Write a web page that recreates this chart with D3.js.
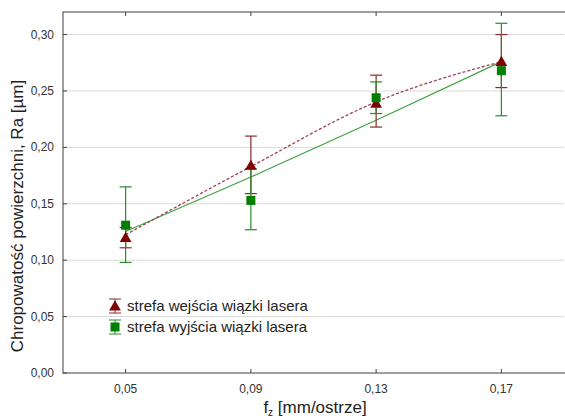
<!DOCTYPE html>
<html>
<head>
<meta charset="utf-8">
<script src="https://cdn.jsdelivr.net/npm/d3@7"></script>
<style>
  body { margin: 0; background: #fff; }
  svg { display: block; font-family: "Liberation Sans", Arial, sans-serif; }
</style>
</head>
<body>
<svg id="chart" width="565" height="420"></svg>
<script>
// feed per tooth [mm/ostrze]
const feeds = [0.05, 0.09, 0.13, 0.17];
const xTicks = [0.05, 0.09, 0.13, 0.17];
const yTicks = [0, 0.05, 0.10, 0.15, 0.20, 0.25, 0.30];

// strefa wejścia (entry zone)
const entryMean = [0.120, 0.184, 0.239, 0.276];
const entryLow  = [0.111, 0.159, 0.218, 0.253];
const entryHigh = [0.129, 0.210, 0.264, 0.300];
const entryFit  = [0.1225, 0.183, 0.2403, 0.276];

// strefa wyjścia (exit zone)
const exitMean = [0.131, 0.153, 0.244, 0.268];
const exitLow  = [0.098, 0.127, 0.230, 0.228];
const exitHigh = [0.165, 0.181, 0.258, 0.310];
const exitFit  = [0.1254, 0.1737, 0.2241, 0.276];

const seriesNames = ["strefa wejścia wiązki lasera", "strefa wyjścia wiązki lasera"];

const svg = d3.select("#chart");
const plotL = 63, plotR = 564, plotT = 12, plotB = 373;

const x = d3.scaleLinear().domain([0.03, 0.19]).range([plotL, plotR]);
const y = d3.scaleLinear().domain([0, 0.32]).range([plotB, plotT]);

const fmt = d => d3.format(".2f")(d).replace(".", ",");

// grid
svg.append("g").selectAll("line")
    .data(yTicks.filter(d => d > 0))
    .join("line")
    .attr("x1", plotL).attr("x2", plotR)
    .attr("y1", d => y(d)).attr("y2", d => y(d))
    .attr("stroke", "#d9d9d9").attr("stroke-width", 1);

// frame
svg.append("rect")
    .attr("x", plotL).attr("y", plotT)
    .attr("width", plotR - plotL + 2).attr("height", plotB - plotT)
    .attr("fill", "none").attr("stroke", "#404040").attr("stroke-width", 1);

// y ticks + labels
svg.append("g").selectAll("line")
    .data(yTicks).join("line")
    .attr("x1", plotL).attr("x2", plotL + 4)
    .attr("y1", d => y(d)).attr("y2", d => y(d))
    .attr("stroke", "#404040");
svg.append("g").selectAll("text")
    .data(yTicks).join("text")
    .attr("x", plotL - 9).attr("y", d => y(d) + 4)
    .attr("text-anchor", "end")
    .style("font-size", "12px").style("fill", "#333")
    .text(fmt);

// x ticks (top and bottom) + labels
svg.append("g").selectAll("line")
    .data(xTicks).join("line")
    .attr("x1", d => x(d)).attr("x2", d => x(d))
    .attr("y1", plotB).attr("y2", plotB - 4)
    .attr("stroke", "#404040");
svg.append("g").selectAll("line")
    .data(xTicks).join("line")
    .attr("x1", d => x(d)).attr("x2", d => x(d))
    .attr("y1", plotT).attr("y2", plotT + 4)
    .attr("stroke", "#404040");
svg.append("g").selectAll("text")
    .data(xTicks).join("text")
    .attr("x", d => x(d)).attr("y", 393)
    .attr("text-anchor", "middle")
    .style("font-size", "12px").style("fill", "#333")
    .text(fmt);

// axis titles
const xt = svg.append("text")
    .attr("x", 315).attr("y", 413)
    .attr("text-anchor", "middle")
    .style("font-size", "17px").style("fill", "#222");
xt.append("tspan").text("f");
xt.append("tspan").attr("dy", 3).style("font-size", "10px").text("z");
xt.append("tspan").attr("dy", -3).text(" [mm/ostrze]");

svg.append("text")
    .attr("transform", "translate(23,216) rotate(-90)")
    .attr("text-anchor", "middle")
    .style("font-size", "17px").style("fill", "#222")
    .text("Chropowatość powierzchni, Ra [µm]");

// fit lines
const line = d3.line().x((d, i) => x(feeds[i])).y(d => y(d)).curve(d3.curveMonotoneX);
svg.append("path").datum(exitFit)
    .attr("d", line).attr("fill", "none")
    .attr("stroke", "#3fa33f").attr("stroke-width", 1.2);
svg.append("path").datum(entryFit)
    .attr("d", line).attr("fill", "none")
    .attr("stroke", "#a0405a").attr("stroke-width", 1.3)
    .attr("stroke-dasharray", "3,2");

// error bars
function errorBars(lo, hi, color) {
    const g = svg.append("g").attr("stroke", color).attr("stroke-width", 1.2);
    feeds.forEach((f, i) => {
        g.append("line").attr("x1", x(f)).attr("x2", x(f)).attr("y1", y(lo[i])).attr("y2", y(hi[i]));
        g.append("line").attr("x1", x(f) - 6).attr("x2", x(f) + 6).attr("y1", y(lo[i])).attr("y2", y(lo[i]));
        g.append("line").attr("x1", x(f) - 6).attr("x2", x(f) + 6).attr("y1", y(hi[i])).attr("y2", y(hi[i]));
    });
}
errorBars(entryLow, entryHigh, "#8a2a2a");
errorBars(exitLow, exitHigh, "#2a8a2a");

const tri = d3.symbol().type(d3.symbolTriangle).size(60);
svg.append("g").selectAll("path")
    .data(entryMean).join("path")
    .attr("d", tri)
    .attr("transform", (d, i) => `translate(${x(feeds[i])},${y(d) + 1})`)
    .attr("fill", "#800000");

svg.append("g").selectAll("rect")
    .data(exitMean).join("rect")
    .attr("x", (d, i) => x(feeds[i]) - 4.5).attr("y", d => y(d) - 4.5)
    .attr("width", 9).attr("height", 9)
    .attr("fill", "#008000");

// legend
const legY = [306, 327];
const legColors = ["#800000", "#008000"];
const legBar = ["#8a2a2a", "#2a8a2a"];
seriesNames.forEach((name, i) => {
    const cx = 115, cy = legY[i];
    const g = svg.append("g");
    g.append("line").attr("x1", cx).attr("x2", cx).attr("y1", cy - 7).attr("y2", cy + 7).attr("stroke", legBar[i]);
    g.append("line").attr("x1", cx - 6).attr("x2", cx + 6).attr("y1", cy - 7).attr("y2", cy - 7).attr("stroke", legBar[i]);
    g.append("line").attr("x1", cx - 6).attr("x2", cx + 6).attr("y1", cy + 7).attr("y2", cy + 7).attr("stroke", legBar[i]);
    if (i === 0) {
        g.append("path").attr("d", tri).attr("transform", `translate(${cx},${cy + 1})`).attr("fill", legColors[i]);
    } else {
        g.append("rect").attr("x", cx - 4.5).attr("y", cy - 4.5).attr("width", 9).attr("height", 9).attr("fill", legColors[i]);
    }
    g.append("text").attr("x", 127).attr("y", cy + 5)
        .style("font-size", "15px").style("fill", "#222")
        .text(name);
});
</script>
</body>
</html>
